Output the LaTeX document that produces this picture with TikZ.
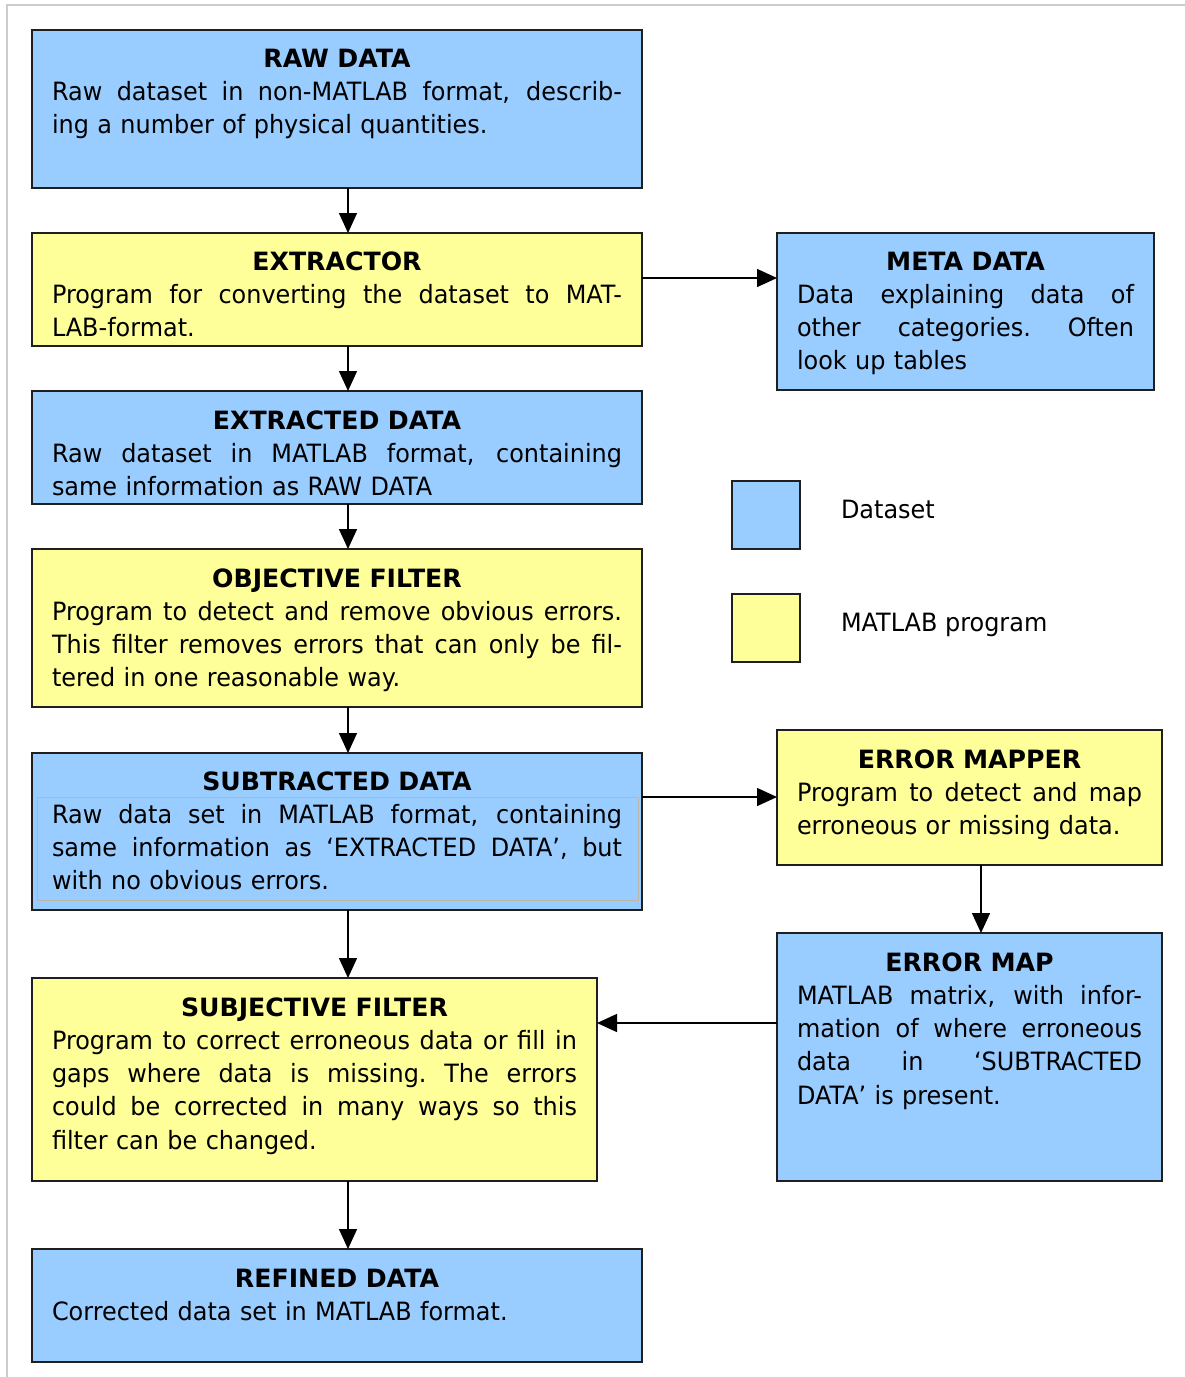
\documentclass[tikz,border=0pt]{standalone}
\usepackage{fontspec}
\setmainfont{DejaVu Sans}[FakeStretch=0.95]
\newfontfamily\titlefont{DejaVu Sans}[FakeStretch=1.0]
\usetikzlibrary{arrows.meta}
\setlength\parindent{0pt}
\definecolor{dsblue}{HTML}{99CCFF}
\definecolor{pgyellow}{HTML}{FFFF99}
\definecolor{framegray}{HTML}{CCCCCC}
\definecolor{innerline}{HTML}{BDB5A6}
\newcommand\jl[1]{\makebox[\hsize][s]{\spaceskip=\fontdimen2\font plus 1fil\relax\xspaceskip=\fontdimen2\font plus 1fil\relax #1}\\}
\newcommand\ttl[1]{\makebox[\hsize][c]{\titlefont\bfseries #1}\\}
\tikzset{
  boxbase/.style={draw=black!88, line width=1.8pt, rectangle, inner sep=0pt, outer sep=0pt, anchor=north west},
  dataset/.style={boxbase, fill=dsblue},
  program/.style={boxbase, fill=pgyellow},
  txt/.style={anchor=base west, inner sep=0pt, outer sep=0pt, align=left, font=\fontsize{25.2}{33.3}\selectfont},
  arr/.style={line width=1.5pt, draw=black, -{Triangle[length=20pt,width=18pt]}},
}
\begin{document}
\begin{tikzpicture}[x=1pt,y=-1pt]
\useasboundingbox (0,0) rectangle (1185,1377);
\draw[framegray, line width=2pt] (7,1377) -- (7,5) -- (1185,5);

% boxes
\node[dataset, minimum width=610pt, minimum height=158pt] (raw) at (32,30) {};
\node[program, minimum width=610pt, minimum height=113pt] (extractor) at (32,233) {};
\node[dataset, minimum width=377pt, minimum height=157pt] (meta) at (777,233) {};
\node[dataset, minimum width=610pt, minimum height=113pt] (extracted) at (32,391) {};
\node[program, minimum width=610pt, minimum height=158pt] (objective) at (32,549) {};
\node[dataset, minimum width=610pt, minimum height=157pt] (subtracted) at (32,753) {};
\node[program, minimum width=385pt, minimum height=135pt] (mapper) at (777,730) {};
\node[dataset, minimum width=385pt, minimum height=248pt] (errmap) at (777,933) {};
\node[program, minimum width=565pt, minimum height=203pt] (subjective) at (32,978) {};
\node[dataset, minimum width=610pt, minimum height=113pt] (refined) at (32,1249) {};

% legend
\node[dataset, minimum width=68pt, minimum height=68pt] (legds) at (732,481) {};
\node[program, minimum width=68pt, minimum height=68pt] (legpg) at (732,594) {};
\node[txt] (legdsT) at (841,518) {Dataset};
\node[txt] (legpgT) at (841,631) {MATLAB program};

% texts
\node[txt, text width=570pt] (rawT) at (52,67) {\ttl{RAW DATA}\jl{Raw dataset in non-MATLAB format, describ-}ing a number of physical quantities.};
\node[txt, text width=570pt] (extractorT) at (52,270) {\ttl{EXTRACTOR}\jl{Program for converting the dataset to MAT-}LAB-format.};
\node[txt, text width=337pt] (metaT) at (797,270) {\ttl{META DATA}\jl{Data explaining data of}\jl{other categories. Often}look up tables};
\begin{scope}
\clip (32,391) rectangle (642,499);
\node[txt, text width=570pt] (extractedT) at (52,429) {\ttl{EXTRACTED DATA}\jl{Raw dataset in MATLAB format, containing}same information as RAW DATA};
\end{scope}
\node[txt, text width=570pt] (objectiveT) at (52,587) {\ttl{OBJECTIVE FILTER}\jl{Program to detect and remove obvious errors.}\jl{This filter removes errors that can only be fil-}tered in one reasonable way.};
\draw[innerline, line width=0.8pt] (37,797) rectangle (638,900);
\node[txt, text width=570pt] (subtractedT) at (52,790) {\ttl{SUBTRACTED DATA}\jl{Raw data set in MATLAB format, containing}\jl{same information as ‘EXTRACTED DATA’, but}with no obvious errors.};
\node[txt, text width=345pt] (mapperT) at (797,768) {\ttl{ERROR MAPPER}\jl{Program to detect and map}erroneous or missing data.};
\node[txt, text width=345pt] (errmapT) at (797,971) {\ttl{ERROR MAP}\jl{MATLAB matrix, with infor-}\jl{mation of where erroneous}\jl{data in ‘SUBTRACTED}DATA’ is present.};
\node[txt, text width=525pt] (subjectiveT) at (52,1016) {\ttl{SUBJECTIVE FILTER}\jl{Program to correct erroneous data or fill in}\jl{gaps where data is missing. The errors}\jl{could be corrected in many ways so this}filter can be changed.};
\node[txt, text width=570pt] (refinedT) at (52,1287) {\ttl{REFINED DATA}Corrected data set in MATLAB format.};

% connectors
\coordinate (axis) at (348,0);
\draw[arr] (raw.south -| axis) -- (extractor.north -| axis);
\draw[arr] (extractor.south -| axis) -- (extracted.north -| axis);
\draw[arr] (extracted.south -| axis) -- (objective.north -| axis);
\draw[arr] (objective.south -| axis) -- (subtracted.north -| axis);
\draw[arr] (subtracted.south -| axis) -- (subjective.north -| axis);
\draw[arr] (subjective.south -| axis) -- (refined.north -| axis);
\coordinate (yex) at (0,278);
\draw[arr] (extractor.east |- yex) -- (meta.west |- yex);
\coordinate (ysub) at (0,797);
\draw[arr] (subtracted.east |- ysub) -- (mapper.west |- ysub);
\coordinate (xmap) at (981,0);
\draw[arr] (mapper.south -| xmap) -- (errmap.north -| xmap);
\coordinate (yerr) at (0,1023);
\draw[arr] (errmap.west |- yerr) -- (subjective.east |- yerr);
\end{tikzpicture}
\end{document}
